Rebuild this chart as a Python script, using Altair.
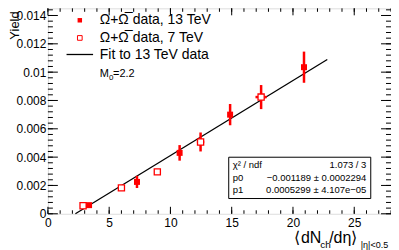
import altair as alt
import pandas as pd

# ---------------- data ----------------
x13 = [3.36, 7.27, 10.75, 14.87, 20.9]
y13 = [0.00061, 0.00225, 0.0043, 0.0070, 0.01035]
e13 = [0.0001, 0.00043, 0.00055, 0.00075, 0.0011]

x7 = [2.87, 6.0, 8.93, 12.46, 17.4]
y7 = [0.00057, 0.00183, 0.00296, 0.00507, 0.00824]
e7 = [0.0001, 0.0002, 0.0002, 0.00067, 0.00085]
ex7 = [0.1, 0.1, 0.1, 0.3, 0.46]

fit_p0 = -0.001189
fit_p1 = 0.0005299
fit_range = [2.244, 22.8]

x_major = [0, 5, 10, 15, 20, 25]
x_minor = list(range(0, 29))
y_major = [0, 0.002, 0.004, 0.006, 0.008, 0.01, 0.012, 0.014]
y_minor = [round(i * 0.0004, 6) for i in range(0, 37)]

legend_labels = ["Ω+Ω̅ data, 13 TeV", "Ω+Ω̅ data, 7 TeV", "Fit to 13 TeV data"]
stat_names = ["χ² / ndf", "p0", "p1"]
stat_values = ["1.073 / 3", "−0.001189 ± 0.0002294", "0.0005299 ± 4.107e−05"]

# ---------------- layout ----------------
W, H = 344, 206
L0, T0 = 48, 8  # absolute page position of plot origin
FONT = "Liberation Sans"
RED = "#ff0000"


def ax(v):
    return v - L0


def ay(v):
    return v - T0


xs = alt.Scale(domain=[0, 28], nice=False, zero=False)
ys = alt.Scale(domain=[0, 0.014507], nice=False, zero=False)

Xa = alt.Axis(values=x_major, ticks=False, domain=False, grid=False,
              labelFont=FONT, labelFontSize=12, labelColor="black",
              labelPadding=4, labelFlush=False, labelOverlap=False, title=None)
Ya = alt.Axis(values=y_major, ticks=False, domain=False, grid=False,
              labelFont=FONT, labelFontSize=12, labelColor="black",
              labelPadding=2, labelFlush=False, labelOverlap=False,
              labelExpr="format(datum.value, '.3~f')", title=None)


def XQ(f):
    return alt.X(f + ":Q", scale=xs, axis=Xa)


def YQ(f):
    return alt.Y(f + ":Q", scale=ys, axis=Ya)


d13 = pd.DataFrame({"x": x13, "y": y13, "lo": [a - b for a, b in zip(y13, e13)],
                    "hi": [a + b for a, b in zip(y13, e13)]})
d7 = pd.DataFrame({"x": x7, "y": y7, "lo": [a - b for a, b in zip(y7, e7)],
                   "hi": [a + b for a, b in zip(y7, e7)],
                   "xl": [a - b for a, b in zip(x7, ex7)],
                   "xh": [a + b for a, b in zip(x7, ex7)]})
dfit = pd.DataFrame({"x": fit_range, "y": [fit_p0 + fit_p1 * v for v in fit_range]})

layers = []

# fit line first (carries both axes)
layers.append(alt.Chart(dfit).mark_line(color="black", strokeWidth=1.3).encode(x=XQ("x"), y=YQ("y")))

# ticks (ROOT style, inward on all four sides)
dym = pd.DataFrame({"y": y_major})
dyn = pd.DataFrame({"y": y_minor})
dxm = pd.DataFrame({"x": x_major})
dxn = pd.DataFrame({"x": x_minor})
tick = dict(color="black", strokeWidth=1)
for df, ln in ((dym, 10), (dyn, 5)):
    layers.append(alt.Chart(df).mark_rule(**tick).encode(
        y=YQ("y"), x=alt.value(0), x2=alt.value(ln)))
    layers.append(alt.Chart(df).mark_rule(**tick).encode(
        y=YQ("y"), x=alt.value(W), x2=alt.value(W - ln)))
for df, ln in ((dxm, 7), (dxn, 3.5)):
    layers.append(alt.Chart(df).mark_rule(**tick).encode(
        x=XQ("x"), y=alt.value(H), y2=alt.value(H - ln)))
    layers.append(alt.Chart(df).mark_rule(**tick).encode(
        x=XQ("x"), y=alt.value(0), y2=alt.value(ln)))

# error bars
layers.append(alt.Chart(d7).mark_rule(color=RED, strokeWidth=2.5).encode(
    x=XQ("x"), y=YQ("lo"), y2="hi:Q"))
layers.append(alt.Chart(d7).mark_rule(color=RED, strokeWidth=2.5).encode(
    y=YQ("y"), x=XQ("xl"), x2="xh:Q"))
layers.append(alt.Chart(d13).mark_rule(color=RED, strokeWidth=2.5).encode(
    x=XQ("x"), y=YQ("lo"), y2="hi:Q"))

# markers
layers.append(alt.Chart(d7).mark_square(size=38, fill="white", stroke=RED, strokeWidth=1.3,
                                        opacity=1).encode(x=XQ("x"), y=YQ("y")))
layers.append(alt.Chart(d13).mark_square(size=36, color=RED, opacity=1).encode(x=XQ("x"), y=YQ("y")))

one = pd.DataFrame({"a": [0]})

# legend
layers.append(alt.Chart(one).mark_square(size=20, color=RED, opacity=1).encode(
    x=alt.value(ax(80)), y=alt.value(ay(20))))
layers.append(alt.Chart(one).mark_square(size=22, fill="white", stroke=RED, strokeWidth=1,
                                         opacity=1).encode(x=alt.value(ax(80)), y=alt.value(ay(37.7))))
layers.append(alt.Chart(one).mark_rule(color="black", strokeWidth=1.3).encode(
    x=alt.value(ax(66.7)), x2=alt.value(ax(93.3)), y=alt.value(ay(54.3))))
for lab, yb in zip(legend_labels, [24, 41.5, 58.5]):
    layers.append(alt.Chart(one).mark_text(text=lab, font=FONT, fontSize=14, align="left",
                                           baseline="alphabetic", color="black").encode(
        x=alt.value(ax(100)), y=alt.value(ay(yb))))
layers.append(alt.Chart(one).mark_text(text="M", font=FONT, fontSize=11, align="left",
                                       baseline="alphabetic", color="black").encode(
    x=alt.value(ax(100)), y=alt.value(ay(76.7))))
layers.append(alt.Chart(one).mark_text(text="0", font=FONT, fontSize=8, align="left",
                                       baseline="alphabetic", color="black").encode(
    x=alt.value(ax(109.2)), y=alt.value(ay(79.5))))
layers.append(alt.Chart(one).mark_text(text="=2.2", font=FONT, fontSize=11, align="left",
                                       baseline="alphabetic", color="black").encode(
    x=alt.value(ax(113.3)), y=alt.value(ay(76.7))))

# stats box
layers.append(alt.Chart(one).mark_rect(fill="white", stroke="black", strokeWidth=1).encode(
    x=alt.value(ax(229.3)), x2=alt.value(ax(371.7)), y=alt.value(ay(157.3)), y2=alt.value(ay(198.7))))
for nm, val, yc in zip(stat_names, stat_values, [165, 177.7, 190]):
    layers.append(alt.Chart(one).mark_text(text=nm, font=FONT, fontSize=9.5, align="left",
                                           baseline="middle", color="black").encode(
        x=alt.value(ax(233.3)), y=alt.value(ay(yc))))
    layers.append(alt.Chart(one).mark_text(text=val, font=FONT, fontSize=9.5, align="right",
                                           baseline="middle", color="black").encode(
        x=alt.value(ax(367.3)), y=alt.value(ay(yc))))

# axis titles
layers.append(alt.Chart(one).mark_text(text="Yield", font=FONT, fontSize=13, align="right",
                                       baseline="top", angle=270, color="black").encode(
    x=alt.value(ax(9)), y=alt.value(ay(11))))
for txt, xp, yb, fs in (("⟨", 295, 243.3, 16), ("dN", 301.7, 243.3, 16), ("ch", 321, 248, 10),
                        ("/dη⟩", 330, 243.3, 16), ("|η|<0.5", 361.7, 248.5, 9)):
    layers.append(alt.Chart(one).mark_text(text=txt, font=FONT, fontSize=fs, align="left",
                                           baseline="alphabetic", color="black").encode(
        x=alt.value(ax(xp)), y=alt.value(ay(yb))))

chart = alt.layer(*layers).properties(
    width=W, height=H,
    autosize=alt.AutoSizeParams(type="none"),
    padding={"left": 40, "top": 0, "right": 0, "bottom": 36},
).configure_view(stroke="black", strokeWidth=1).configure(background="white")

chart.save("out.html", embed_options={"renderer": "svg", "actions": False})
